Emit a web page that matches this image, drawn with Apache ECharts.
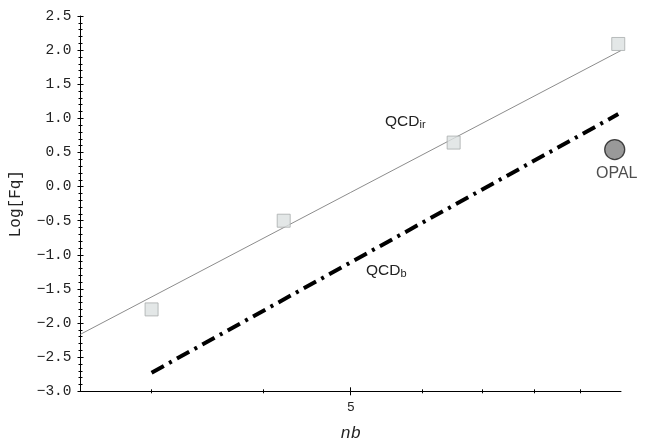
<!DOCTYPE html>
<html>
<head>
<meta charset="utf-8">
<script src="https://cdn.jsdelivr.net/npm/echarts@6/dist/echarts.min.js"></script>
<style>html,body{margin:0;padding:0;background:#fff}#c{width:654px;height:444px}</style>
</head>
<body>
<div id="c"></div>
<script>
// data
const irPoints = [[3.0, -1.80], [4.21, -0.50], [6.51, 0.645], [9.93, 2.09]];
const irFit = [[2.5, -2.164], [10, 1.994]];
const qcdB = [[3.0, -2.727], [9.93, 1.062]];
const opal = [[9.84, 0.543]];
const xMajorTicks = [5];
const xMinorTicks = [3, 4, 6, 7, 8, 9];
const xLabels = [5];

const X_MIN = 2.5, X_MAX = 10;
function xAx(extra) {
  return Object.assign({
    type: 'log', logBase: 10, min: X_MIN, max: X_MAX,
    gridIndex: 0, position: 'bottom',
    axisLine: { show: false, onZero: false }, axisLabel: { show: false },
    splitLine: { show: false }, minorTick: { show: false }, minorSplitLine: { show: false },
    axisTick: { show: false }
  }, extra);
}
function yAx(extra) {
  return Object.assign({
    type: 'value', min: -3, max: 2.5, interval: 0.5,
    axisLine: { show: false, onZero: false }, axisLabel: { show: false },
    splitLine: { show: false },
    minorTick: { show: true, splitNumber: 5, length: 2, lineStyle: { color: '#000', width: 1 } },
    axisTick: { show: true, length: 3, lineStyle: { color: '#000', width: 1 } }
  }, extra);
}

const chart = echarts.init(document.getElementById('c'));
chart.setOption({
  backgroundColor: '#fff',
  animation: false,
  grid: { left: 80.5, right: 33, top: 16, bottom: 52.7, containLabel: false, outerBoundsMode: 'none' },
  xAxis: [
    xAx({
      axisLine: { show: true, onZero: false, lineStyle: { color: '#000', width: 1 } },
      axisTick: { show: true, customValues: xMajorTicks, length: 4, lineStyle: { color: '#000' } },
      axisLabel: { show: true, customValues: xLabels, margin: 10, color: '#222',
        fontFamily: 'Liberation Sans', fontSize: 13, formatter: v => String(v) },
      name: 'nb', nameLocation: 'middle', nameGap: 34,
      nameTextStyle: { fontFamily: 'Liberation Mono', fontStyle: 'italic', fontSize: 17, color: '#222' }
    }),
    xAx({ axisTick: { show: true, inside: true, customValues: xMajorTicks, length: 4, lineStyle: { color: '#000' } } }),
    xAx({ axisTick: { show: true, customValues: xMinorTicks, length: 2, lineStyle: { color: '#000' } } }),
    xAx({ axisTick: { show: true, inside: true, customValues: xMinorTicks, length: 2, lineStyle: { color: '#000' } } })
  ],
  yAxis: [
    yAx({
      axisLine: { show: true, onZero: false, lineStyle: { color: '#000', width: 1 } },
      axisLabel: { show: true, margin: 9, color: '#222', fontFamily: 'Liberation Mono', fontSize: 14.5,
        formatter: v => v.toFixed(1).replace('-', '\u2212') },
      name: 'Log[Fq]', nameLocation: 'middle', nameGap: 57, nameRotate: 90,
      nameTextStyle: { fontFamily: 'Liberation Mono', fontSize: 16, color: '#222' }
    }),
    yAx({ position: 'left', axisTick: { show: true, inside: true, length: 3, lineStyle: { color: '#000' } },
      minorTick: { show: true, splitNumber: 5, length: 2, lineStyle: { color: '#000' } } })
  ],
  series: [
    {
      type: 'line', data: irFit, symbol: 'none', xAxisIndex: 0, yAxisIndex: 0,
      lineStyle: { color: '#8c8c8c', width: 1 }, z: 2
    },
    {
      type: 'line', data: qcdB, symbol: 'none', xAxisIndex: 0, yAxisIndex: 0,
      lineStyle: { color: '#000', width: 4, type: [14, 6, 3, 6], cap: 'butt' }, z: 2
    },
    {
      type: 'scatter', data: irPoints, symbol: 'rect', symbolSize: 13, xAxisIndex: 0, yAxisIndex: 0,
      itemStyle: { color: '#dce1e1', borderColor: '#a9adad', borderWidth: 1 }, z: 3
    },
    {
      type: 'scatter', data: opal, symbol: 'circle', symbolSize: 20, xAxisIndex: 0, yAxisIndex: 0,
      itemStyle: { color: '#808080', borderColor: '#1a1a1a', borderWidth: 1.3 },
      label: { show: true, position: 'bottom', distance: 5, formatter: 'OPAL', offset: [2, 0],
        fontFamily: 'Liberation Sans', fontSize: 16, color: '#222' }, z: 3
    }
  ],
  graphic: [
    {
      type: 'text', left: 385, top: 112,
      style: {
        text: '{a|QCD}{s|ir}',
        rich: {
          a: { fontFamily: 'Liberation Sans', fontSize: 15.5, lineHeight: 17, verticalAlign: 'bottom', fill: '#222' },
          s: { fontFamily: 'Liberation Sans', fontSize: 11, lineHeight: 11, padding: [7, 0, 0, 0], verticalAlign: 'bottom', fill: '#222' }
        }
      }
    },
    {
      type: 'text', left: 366, top: 261,
      style: {
        text: '{a|QCD}{s|b}',
        rich: {
          a: { fontFamily: 'Liberation Sans', fontSize: 15.5, lineHeight: 17, verticalAlign: 'bottom', fill: '#222' },
          s: { fontFamily: 'Liberation Sans', fontSize: 11, lineHeight: 11, padding: [7, 0, 0, 0], verticalAlign: 'bottom', fill: '#222' }
        }
      }
    }
  ]
});
</script>
</body>
</html>
